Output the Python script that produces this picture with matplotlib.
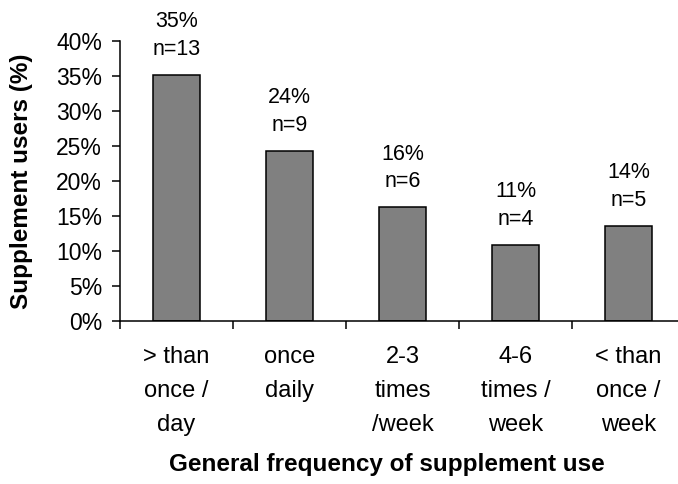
import numpy as np
import matplotlib.pyplot as plt

plt.rcParams['font.family'] = ['Liberation Sans', 'DejaVu Sans']
plt.rcParams['font.size'] = 16

categories = ['> than\nonce /\nday', 'once\ndaily', '2-3\ntimes\n/week',
              '4-6\ntimes /\nweek', '< than\nonce /\nweek']
counts = [13, 9, 6, 4, 5]
pct_labels = ['35%', '24%', '16%', '11%', '14%']
total = 37
values = [100.0 * c / total for c in counts]


def main():
    fig = plt.figure(figsize=(6.78, 4.84), dpi=100)
    ax = fig.add_axes([120 / 678, 163 / 484, 565 / 678, 280 / 484])
    x = np.arange(len(categories))
    ax.bar(x, values, width=0.415, color='#808080', edgecolor='black', linewidth=1.1)

    for xi, v, p, c in zip(x, values, pct_labels, counts):
        ax.annotate('n=%d' % c, (xi, v), xytext=(0, 18.5), textcoords='offset points',
                    ha='center', va='center', fontsize=15.5)
        ax.annotate(p, (xi, v), xytext=(0, 38.5), textcoords='offset points',
                    ha='center', va='center', fontsize=15.5, annotation_clip=False)

    ax.set_xlim(-0.5, len(categories) - 0.5)
    ax.set_ylim(0, 40)
    ax.set_yticks(np.arange(0, 41, 5))
    ax.set_yticklabels(['%d%%' % t for t in range(0, 41, 5)], fontsize=16.5)
    ax.set_xticks(np.arange(-0.5, len(categories), 1.0))
    ax.set_xticklabels([])
    ax.set_xticks(x, minor=True)
    ax.set_xticklabels(categories, minor=True, linespacing=1.7, fontsize=17)
    ax.tick_params(axis='x', which='minor', length=0, pad=18)
    ax.tick_params(axis='both', which='major', length=6, width=1.1, direction='out')
    ax.tick_params(axis='y', pad=7)

    for s in ['top', 'right']:
        ax.spines[s].set_visible(False)
    for s in ['left', 'bottom']:
        ax.spines[s].set_linewidth(1.1)

    fig.text(22 / 678, 1 - 181 / 484, 'Supplement users (%)', rotation=90,
             ha='center', va='center', fontsize=17.5, fontweight='bold')
    fig.text(387 / 678, 1 - 465 / 484, 'General frequency of supplement use',
             ha='center', va='center', fontsize=17.5, fontweight='bold')

    fig.savefig('out.png', dpi=100)


if __name__ == '__main__':
    main()
